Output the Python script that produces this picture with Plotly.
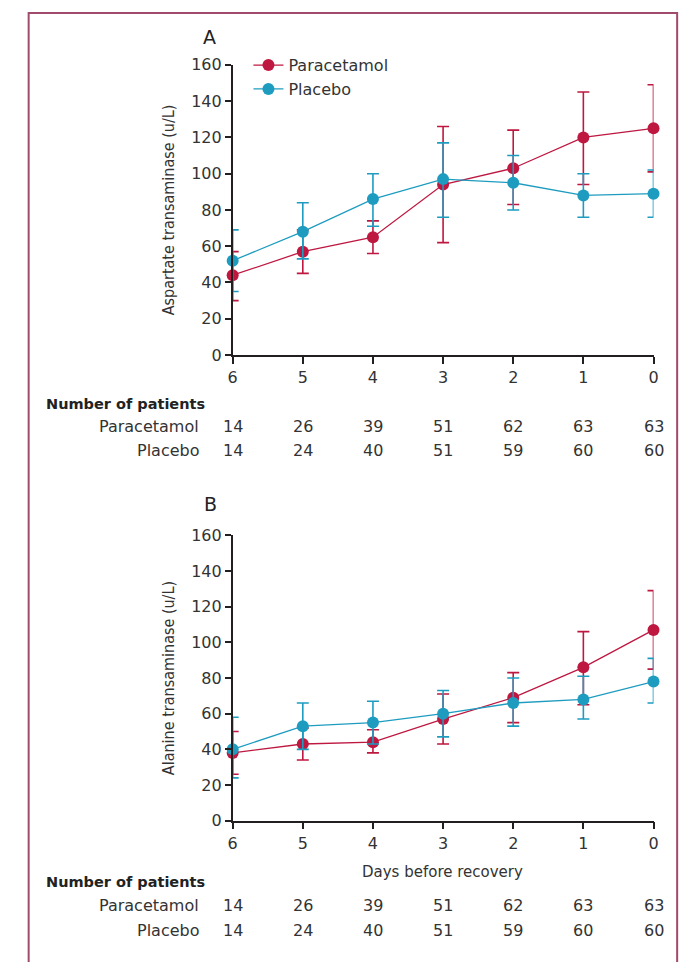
import plotly.graph_objects as go

W, H = 693, 962

days = [6, 5, 4, 3, 2, 1, 0]

# Panel A: aspartate transaminase (u/L)
ast_para = [44, 57, 65, 94, 103, 120, 125]
ast_para_upper = [57, 69, 74, 126, 124, 145, 149]
ast_para_lower = [30, 45, 56, 62, 83, 94, 101]
ast_plac = [52, 68, 86, 97, 95, 88, 89]
ast_plac_upper = [69, 84, 100, 117, 110, 100, 102]
ast_plac_lower = [35, 53, 71, 76, 80, 76, 76]

# Panel B: alanine transaminase (u/L)
alt_para = [38, 43, 44, 57, 69, 86, 107]
alt_para_upper = [50, 52, 51, 71, 83, 106, 129]
alt_para_lower = [26, 34, 38, 43, 55, 65, 85]
alt_plac = [40, 53, 55, 60, 66, 68, 78]
alt_plac_upper = [58, 66, 67, 73, 80, 81, 91]
alt_plac_lower = [24, 40, 43, 47, 53, 57, 66]

# Number of patients
n_para = [14, 26, 39, 51, 62, 63, 63]
n_plac = [14, 24, 40, 51, 59, 60, 60]

y_ticks = [0, 20, 40, 60, 80, 100, 120, 140, 160]

RED = "#BE1740"
BLUE = "#1E9CC0"
AXC = "#231F20"
TXT = "#333333"
FONT = "DejaVu Sans, Liberation Sans, sans-serif"
TFONT = "Liberation Sans Narrow, DejaVu Sans Condensed, Arial Narrow, sans-serif"


def px_y(py):
    return 1 - py / H


def px_x(px):
    return px / W


fig = go.Figure()


def add_series(x, y, up, lo, color, name, xa, ya, show):
    fig.add_trace(go.Scatter(
        x=x, y=y, xaxis=xa, yaxis=ya, name=name, mode="lines+markers",
        line=dict(color=color, width=1.3),
        marker=dict(color=color, size=12),
        error_y=dict(type="data", symmetric=False,
                     array=[u - v for u, v in zip(up, y)],
                     arrayminus=[v - l for v, l in zip(y, lo)],
                     color=color, thickness=1.6, width=6),
        cliponaxis=False, showlegend=show, legendgroup=name,
    ))


add_series(days, ast_para, ast_para_upper, ast_para_lower, RED, "Paracetamol", "x", "y", True)
add_series(days, ast_plac, ast_plac_upper, ast_plac_lower, BLUE, "Placebo", "x", "y", True)
add_series(days, alt_para, alt_para_upper, alt_para_lower, RED, "Paracetamol", "x2", "y2", False)
add_series(days, alt_plac, alt_plac_upper, alt_plac_lower, BLUE, "Placebo", "x2", "y2", False)

xdom = [px_x(231), px_x(658)]
xaxis_common = dict(
    domain=xdom, range=[6, 0], tickvals=days, ticktext=[str(d) for d in days],
    showline=True, linecolor=AXC, linewidth=1.5, ticks="outside", ticklen=7,
    tickwidth=1.5, tickcolor=AXC, showgrid=False, zeroline=False,
    tickfont=dict(family=FONT, size=16, color=TXT),
)
yaxis_common = dict(
    range=[0, 160], tickvals=y_ticks, showline=True, linecolor=AXC, linewidth=1.5,
    ticks="outside", ticklen=6, tickwidth=1.5, tickcolor=AXC, showgrid=False,
    zeroline=False, tickfont=dict(family=FONT, size=16, color=TXT),
)

fig.update_layout(
    width=W, height=H, margin=dict(l=0, r=0, t=0, b=0),
    paper_bgcolor="white", plot_bgcolor="white",
    font=dict(family=FONT, color=TXT),
    xaxis=dict(**xaxis_common, anchor="y"),
    yaxis=dict(**yaxis_common, domain=[px_y(353), px_y(57)], anchor="x",
               title=dict(text="Aspartate transaminase (u/L)", standoff=13,
                          font=dict(family=TFONT, size=16, color=TXT))),
    xaxis2=dict(**xaxis_common, anchor="y2"),
    yaxis2=dict(**yaxis_common, domain=[px_y(828), px_y(537)], anchor="x2",
                title=dict(text="Alanine transaminase (u/L)", standoff=13,
                           font=dict(family=TFONT, size=16, color=TXT))),
    legend=dict(x=px_x(247), y=px_y(40), xanchor="left", yanchor="top",
                bgcolor="rgba(0,0,0,0)", font=dict(family=FONT, size=16, color=TXT),
                tracegroupgap=0, itemclick=False),
    showlegend=True,
)

ann = []


def text(t, x, y, size, color=TXT, xanchor="center", xref="paper", family=FONT):
    ann.append(dict(text=t, x=x, y=px_y(y), xref=xref, yref="paper",
                    xanchor=xanchor, yanchor="middle", showarrow=False,
                    font=dict(family=family, size=size, color=color)))


text("A", px_x(208), 29, 19, "#222")
text("B", px_x(209), 505, 19, "#222")
text("Days before recovery", px_x(444), 880, 15)

for xa, rows in (("x", (403, 426, 450)), ("x2", (891, 915, 940))):
    text("<b>Number of patients</b>", px_x(40), rows[0], 14.5, "#222", xanchor="left")
    for label, vals, py in (("Paracetamol", n_para, rows[1]), ("Placebo", n_plac, rows[2])):
        text(label, px_x(199), py, 16, xanchor="right")
        for d, v in zip(days, vals):
            text(str(v), d, py, 16, xref=xa)

fig.update_layout(annotations=ann)

fig.add_shape(type="rect", xref="paper", yref="paper",
              x0=px_x(24), x1=px_x(682), y0=-0.05, y1=px_y(4),
              line=dict(color="#A04A6C", width=2), fillcolor="rgba(0,0,0,0)")

fig.write_html("out.html", config={"displayModeBar": False},
               post_script="document.body.style.margin='0';document.body.style.overflow='hidden';")
